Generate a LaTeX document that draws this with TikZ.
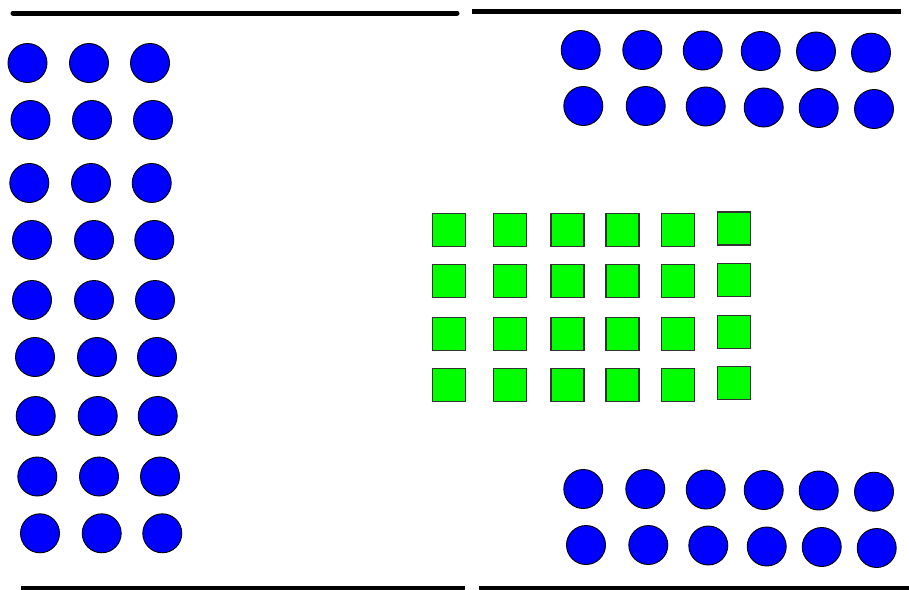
\documentclass[tikz,border=0pt]{standalone}
\begin{document}
\begin{tikzpicture}[x=1pt,y=-1pt,
  dot/.style={circle,draw=black,line width=0.9pt,fill=blue,minimum size=39pt,inner sep=0pt},
  sq/.style={rectangle,draw=black!80,line width=1.2pt,fill=green,minimum size=33pt,inner sep=0pt},
  wall/.style={line width=5pt,black}]
\useasboundingbox (0,0) rectangle (909,589);
% walls
\coordinate (tl1) at (13,13); \coordinate (tl2) at (457,13);
\coordinate (tr1) at (472,11); \coordinate (tr2) at (901,11);
\coordinate (bl1) at (21,588); \coordinate (bl2) at (465,588);
\coordinate (br1) at (479,588); \coordinate (br2) at (909,588);
\draw[wall,line cap=round] (tl1) -- (tl2);
\draw[wall] (tr1) -- (tr2);
\draw[wall] (bl1) -- (bl2);
\draw[wall] (br1) -- (br2);
% left block
\foreach \y/\a/\b/\c [count=\i] in {63/27.5/89/150, 120/30.5/92/153, 183/29.3/91/151.7, 240/32/94/154.3, 300/32/94/155, 357/35/97/157, 416/35.7/97.7/157.7, 476.5/37.3/99/160, 533.3/40/101.7/162.3}{
  \node[dot] (L\i a) at (\a,\y) {};
  \node[dot] (L\i b) at (\b,\y) {};
  \node[dot] (L\i c) at (\c,\y) {};
}
% top right block
\foreach \x/\y [count=\i] in {580.7/50, 642.3/50, 702.7/50.5, 760.7/51, 816/51.5, 871/52.7}{
  \node[dot] (T1\i) at (\x,\y) {};
}
\foreach \x/\y [count=\i] in {583.3/106, 645.7/106, 705.7/106.5, 763.7/107.5, 818.7/108, 874/109}{
  \node[dot] (T2\i) at (\x,\y) {};
}
% bottom right block
\foreach \x/\y [count=\i] in {583.3/489, 645.3/489, 705.7/489.5, 763.7/490, 818.7/490.5, 874/491.7}{
  \node[dot] (B1\i) at (\x,\y) {};
}
\foreach \x/\y [count=\i] in {586/545, 648.3/545, 708.3/545.5, 766.7/546.5, 821.7/547, 876.7/548}{
  \node[dot] (B2\i) at (\x,\y) {};
}
% squares
\foreach \y [count=\r] in {229.7, 281, 333.7, 384.7}{
  \foreach \x [count=\c] in {449, 509.7, 567.5, 622.5, 677.7}{
    \node[sq] (S\r\c) at (\x,\y) {};
  }
}
\foreach \y [count=\r] in {228.5, 279.7, 332.2, 383}{
  \node[sq] (S\r6) at (734.2,\y) {};
}
\end{tikzpicture}
\end{document}
